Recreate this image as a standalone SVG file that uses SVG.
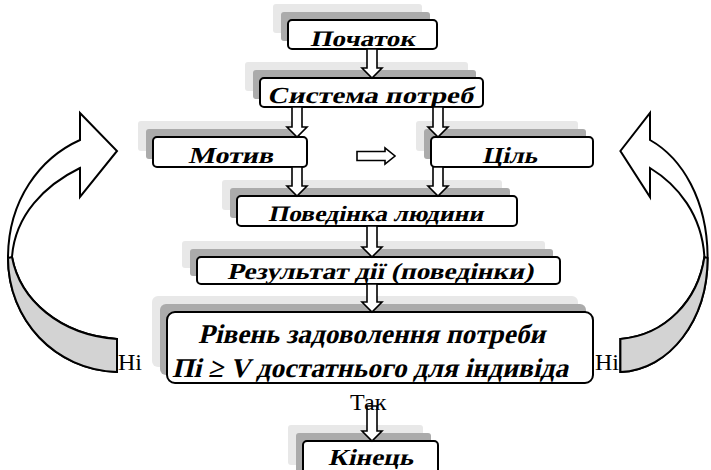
<svg xmlns="http://www.w3.org/2000/svg" xmlns:xlink="http://www.w3.org/1999/xlink" width="711" height="470" viewBox="0 0 711 470">
<style>
.sl{fill:#e8e8e8}
.sd{fill:#ababab}
.bx{fill:#fff;stroke:#000;stroke-width:2}
.t{font-weight:bold;font-style:normal;font-size:23px;fill:#000;text-anchor:middle}
.lbl{font-size:24px;fill:#000}
.ar{fill:#fff;stroke:#000;stroke-width:1.6;stroke-linejoin:miter}
.cw{fill:#fff;stroke:#000;stroke-width:2;vector-effect:non-scaling-stroke;stroke-linejoin:miter}
.cg{fill:#d3d3d3;stroke:#000;stroke-width:2;vector-effect:non-scaling-stroke}
</style>
<defs>
<g id="curve">
<path class="cw" d="M117,339 C60,335 20,300 12,257 C15,215 45,185 80,168 L80,197 L117,151 L80,113 L80,140 C40,158 8,200 8,258 C8,320 55,370 117,372 Z"/>
<path class="cg" d="M12,257 C20,300 60,335 117,339 L117,372 C55,370 8,320 8,258 Z"/>
</g>
</defs>

<g id="loop-left"><use xlink:href="#curve"/></g>
<g id="loop-right"><use xlink:href="#curve" transform="translate(714,0) scale(-0.8,1)"/></g>

<g id="n-start">
<rect class="sl" x="273" y="4" width="149" height="29" rx="3"/>
<rect class="sd" x="281" y="12" width="149" height="29" rx="3"/>
<rect class="bx" x="288" y="20" width="149" height="29" rx="4"/>
<g transform="translate(362.5,46) skewX(-13)"><text class="t" font-family="Liberation Serif" x="0" y="0" style="font-size:22px" textLength="105" lengthAdjust="spacingAndGlyphs">Початок</text></g>
</g>

<g id="n-needs">
<rect class="sl" x="245" y="62" width="223" height="29" rx="3"/>
<rect class="sd" x="253" y="70" width="223" height="29" rx="3"/>
<rect class="bx" x="260" y="78" width="223" height="29" rx="4"/>
<g transform="translate(370,103) skewX(-13)"><text class="t" font-family="Liberation Serif" x="0" y="0" textLength="206" lengthAdjust="spacingAndGlyphs">Система потреб</text></g>
</g>

<g id="n-motive">
<rect class="sl" x="138" y="121" width="154" height="30" rx="3"/>
<rect class="sd" x="146" y="129" width="154" height="30" rx="3"/>
<rect class="bx" x="153" y="137" width="154" height="30" rx="4"/>
<g transform="translate(230.5,163) skewX(-13)"><text class="t" font-family="Liberation Serif" x="0" y="0" textLength="85" lengthAdjust="spacingAndGlyphs">Мотив</text></g>
</g>

<g id="n-goal">
<rect class="sl" x="416" y="121" width="162" height="30" rx="3"/>
<rect class="sd" x="424" y="129" width="162" height="30" rx="3"/>
<rect class="bx" x="431" y="137" width="162" height="30" rx="4"/>
<g transform="translate(509.5,163) skewX(-13)"><text class="t" font-family="Liberation Serif" x="0" y="0" textLength="55" lengthAdjust="spacingAndGlyphs">Ціль</text></g>
</g>

<g id="n-behavior">
<rect class="sl" x="222" y="180" width="280" height="30" rx="3"/>
<rect class="sd" x="230" y="188" width="280" height="30" rx="3"/>
<rect class="bx" x="237" y="196" width="280" height="30" rx="4"/>
<g transform="translate(375.5,221) skewX(-13)"><text class="t" font-family="Liberation Serif" x="0" y="0" style="font-size:22px" textLength="215" lengthAdjust="spacingAndGlyphs">Поведінка людини</text></g>
</g>

<g id="n-result">
<rect class="sl" x="182" y="241" width="363" height="27" rx="3"/>
<rect class="sd" x="190" y="249" width="363" height="27" rx="3"/>
<rect class="bx" x="197" y="257" width="363" height="27" rx="4"/>
<g transform="translate(380,279) skewX(-13)"><text class="t" font-family="Liberation Serif" x="0" y="0" textLength="306" lengthAdjust="spacingAndGlyphs">Результат дії (поведінки)</text></g>
</g>

<g id="n-level">
<rect class="sl" x="152" y="296" width="426" height="71" rx="6"/>
<rect class="sd" x="160" y="304" width="426" height="71" rx="6"/>
<rect class="bx" x="167" y="312" width="426" height="71" rx="8"/>
<g transform="translate(371.5,343) skewX(-13)"><text class="t" font-family="Liberation Serif" x="0" y="0" style="font-size:27px" textLength="347" lengthAdjust="spacingAndGlyphs">Рівень задоволення потреби</text></g>
<g transform="translate(370,377) skewX(-13)"><text class="t" font-family="Liberation Serif" x="0" y="0" style="font-size:27px" textLength="396" lengthAdjust="spacingAndGlyphs">Пі ≥ V достатнього для індивіда</text></g>
</g>

<g id="n-end">
<rect class="sl" x="288" y="425" width="135" height="40" rx="3"/>
<rect class="sd" x="296" y="433" width="135" height="40" rx="3"/>
<rect class="bx" x="303" y="441" width="135" height="40" rx="4"/>
<g transform="translate(370.5,465) skewX(-13)"><text class="t" font-family="Liberation Serif" x="0" y="0" textLength="85" lengthAdjust="spacingAndGlyphs">Кінець</text></g>
</g>

<g id="connectors">
<path class="ar" d="M367,49 L377,49 L377,68 L382,68 L372,78 L362,68 L367,68 Z"/>
<path class="ar" d="M292,107 L302,107 L302,127 L307,127 L297,137 L287,127 L292,127 Z"/>
<path class="ar" d="M433,107 L443,107 L443,127 L448,127 L438,137 L428,127 L433,127 Z"/>
<path class="ar" d="M292,167 L302,167 L302,186 L307,186 L297,196 L287,186 L292,186 Z"/>
<path class="ar" d="M433,167 L443,167 L443,186 L448,186 L438,196 L428,186 L433,186 Z"/>
<path class="ar" d="M367,226 L377,226 L377,247 L382,247 L372,257 L362,247 L367,247 Z"/>
<path class="ar" d="M367,284 L377,284 L377,302 L382,302 L372,312 L362,302 L367,302 Z"/>
<path class="ar" d="M367,406 L377,406 L377,431 L382,431 L372,441 L362,431 L367,431 Z"/>
<path class="ar" d="M357,151.5 L385,151.5 L385,148 L395,156 L385,164 L385,160.5 L357,160.5 Z"/>
<text class="lbl" font-family="Liberation Serif" x="118" y="370">Ні</text>
<text class="lbl" font-family="Liberation Serif" x="595" y="370">Ні</text>
<text class="lbl" font-family="Liberation Serif" x="350" y="410">Так</text>
</g>
</svg>
